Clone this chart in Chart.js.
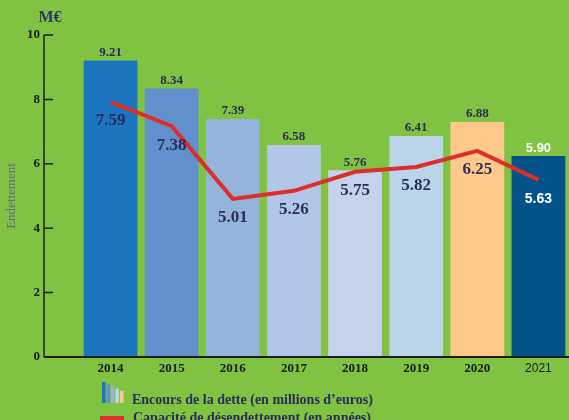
<!DOCTYPE html>
<html>
<head>
<meta charset="utf-8">
<script src="https://cdn.jsdelivr.net/npm/chart.js@4.4.1/dist/chart.umd.min.js"></script>
<style>
  html,body{margin:0;padding:0;background:#80c242;}
  #wrap{width:569px;height:420px;}
</style>
</head>
<body>
<div id="wrap"><canvas id="chart" width="569" height="420"></canvas></div>
<script>
// Data
const years = ['2014','2015','2016','2017','2018','2019','2020','2021'];
const debt = [9.21, 8.34, 7.39, 6.58, 5.80, 6.86, 7.30, 6.24];
const debtText = ['9.21','8.34','7.39','6.58','5.76','6.41','6.88','5.90'];
const capacity = [7.92, 7.17, 4.91, 5.16, 5.75, 5.90, 6.40, 5.50];
const capacityText = ['7.59','7.38','5.01','5.26','5.75','5.82','6.25','5.63'];
const yTicks = [0, 2, 4, 6, 8, 10];

const barColors = ['#1b76c0','#6190cd','#94b4dc','#b2c6e7','#c4d2ec','#bad5e9','#fec88a','#03538a'];
const serif = 'Liberation Serif';
const sans = 'Liberation Sans';
const navy = '#2b2c58';

const decor = {
  id:'decor',
  beforeDraw(chart){
    const ctx = chart.ctx;
    ctx.save();
    ctx.fillStyle = '#80c242';
    ctx.fillRect(0,0,chart.width,chart.height);
    ctx.restore();
  },
  afterDraw(chart){
    const {ctx, scales:{x, y}} = chart;
    const axisX = 44;
    const y0 = y.getPixelForValue(0);
    ctx.save();
    // y axis + inward ticks
    ctx.strokeStyle = '#1e1e1e';
    ctx.lineWidth = 1.5;
    ctx.beginPath();
    ctx.moveTo(axisX, y.getPixelForValue(10));
    ctx.lineTo(axisX, y0);
    yTicks.forEach(v=>{
      if(v===0) return;
      const py = y.getPixelForValue(v);
      ctx.moveTo(axisX, py);
      ctx.lineTo(axisX+9, py);
    });
    ctx.stroke();
    // x axis
    ctx.lineWidth = 2;
    ctx.beginPath();
    ctx.moveTo(axisX, y0);
    ctx.lineTo(chart.width, y0);
    ctx.stroke();

    // unit label
    ctx.fillStyle = '#33336b';
    ctx.font = 'bold 16px "'+serif+'"';
    ctx.textAlign = 'center';
    ctx.textBaseline = 'middle';
    ctx.fillText('M€', 50, 18);

    // bar value labels
    const bars = chart.getDatasetMeta(0).data;
    bars.forEach((b,i)=>{
      const last = i===bars.length-1;
      ctx.fillStyle = last ? '#ffffff' : navy;
      ctx.font = last ? 'bold 13px "'+sans+'"' : 'bold 13px "'+serif+'"';
      ctx.fillText(debtText[i], b.x, b.y-8);
    });
    // line value labels
    const pts = chart.getDatasetMeta(1).data;
    pts.forEach((p,i)=>{
      const last = i===pts.length-1;
      ctx.fillStyle = last ? '#ffffff' : navy;
      ctx.font = last ? 'bold 14px "'+sans+'"' : 'bold 17px "'+serif+'"';
      ctx.fillText(capacityText[i], bars[i].x, p.y+19);
    });

    // legend
    const icon = [barColors[0], barColors[1], barColors[2], barColors[5], barColors[6]];
    icon.forEach((c,i)=>{
      ctx.fillStyle = c;
      const top = 382 + i*2.2;
      ctx.fillRect(102 + i*4.5, top, 3.5, 403-top);
    });
    ctx.fillStyle = navy;
    ctx.font = 'bold 14px "'+serif+'"';
    ctx.textAlign = 'left';
    ctx.fillText('Encours de la dette (en millions d\u2019euros)', 132, 400);
    ctx.fillStyle = '#e0302c';
    ctx.fillRect(100, 416, 24, 6);
    ctx.fillStyle = navy;
    ctx.fillText('Capacité de désendettement (en années)', 133, 418);
    ctx.restore();
  }
};

new Chart(document.getElementById('chart'), {
  type:'bar',
  data:{
    labels: years,
    datasets:[
      {
        type:'bar',
        data: debt,
        backgroundColor: barColors,
        borderWidth:0,
        categoryPercentage:1,
        barPercentage:0.88,
        order:2
      },
      {
        type:'line',
        data: capacity,
        borderColor:'#dc2f2b',
        borderWidth:4,
        pointRadius:0,
        tension:0,
        order:1
      }
    ]
  },
  options:{
    responsive:false,
    animation:false,
    layout:{padding:{top:35, right:0, left:0, bottom:0}},
    plugins:{legend:{display:false}, tooltip:{enabled:false}},
    scales:{
      x:{
        grid:{display:false, drawTicks:false},
        border:{display:false},
        afterFit(s){ s.height = 63; s.paddingLeft = 0; s.paddingRight = 0; },
        ticks:{
          padding:4,
          color:'#1a1a1a',
          font:(c)=> c.index===7 ? {family:sans, size:12} : {family:serif, size:13, weight:'bold'}
        }
      },
      y:{
        min:0, max:10,
        afterFit(s){ s.width = 80; s.paddingTop = 0; s.paddingBottom = 0; },
        afterBuildTicks(s){ s.ticks = yTicks.map(v=>({value:v})); },
        grid:{display:false, drawTicks:false},
        border:{display:false},
        ticks:{padding:40, color:'#1a1a1a', font:{family:serif, size:13, weight:'bold'}},
        title:{display:true, text:'Endettement', color:'#6b5d93', padding:{top:4,bottom:0}, font:{family:serif, size:13}}
      }
    }
  },
  plugins:[decor]
});
</script>
</body>
</html>
